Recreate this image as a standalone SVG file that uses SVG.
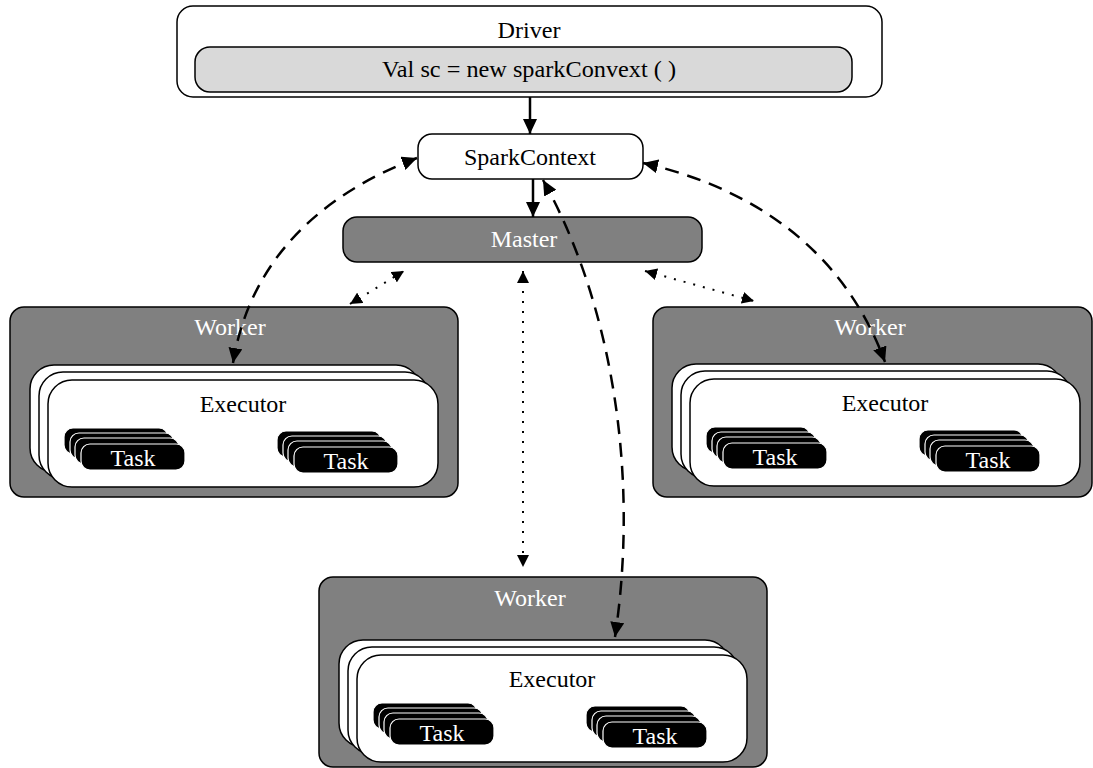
<svg xmlns="http://www.w3.org/2000/svg" width="1093" height="768" viewBox="0 0 1093 768">
<style>
text{font-family:"Liberation Serif","Times New Roman",serif;font-size:24px;text-anchor:middle}
.wt{fill:#fff}
.bt{fill:#000}
.box{stroke:#000;stroke-width:1.5}
.white{fill:#fff}
.gray{fill:#808080}
.light{fill:#d9d9d9}
.task{fill:#000;stroke:#fff;stroke-width:1.2}
.solid{fill:none;stroke:#000;stroke-width:2.5}
.dash{fill:none;stroke:#000;stroke-width:2.5;stroke-dasharray:14 9}
.dot{fill:none;stroke:#000;stroke-width:2;stroke-dasharray:2 8}
</style>
<defs>
<marker id="ah" markerUnits="userSpaceOnUse" markerWidth="16" markerHeight="14" refX="15" refY="7" orient="auto-start-reverse">
<path d="M0,0 L15,7 L0,14 z" fill="#000"/>
</marker>
<marker id="ahs" markerUnits="userSpaceOnUse" markerWidth="14" markerHeight="12" refX="12" refY="6" orient="auto-start-reverse">
<path d="M0,0 L12,6 L0,12 z" fill="#000"/>
</marker>
<g id="taskstack">
<rect class="task" x="-17" y="-16" width="104" height="26" rx="9"/>
<rect class="task" x="-11" y="-11" width="104" height="26" rx="9"/>
<rect class="task" x="-6" y="-6" width="104" height="26" rx="9"/>
<rect class="task" x="0" y="0" width="104" height="26" rx="9"/>
<text class="wt" x="52" y="22">Task</text>
</g>
<g id="exec">
<rect class="box white" x="-18" y="-15" width="390" height="107" rx="24"/>
<rect class="box white" x="-9" y="-8" width="390" height="107" rx="24"/>
<rect class="box white" x="0" y="0" width="390" height="107" rx="24"/>
<text class="bt" x="195" y="32">Executor</text>
<use href="#taskstack" x="33" y="64"/>
<use href="#taskstack" x="246" y="67"/>
</g>
</defs>
<rect width="1093" height="768" fill="#fff"/>

<g id="driver">
<rect class="box white" x="177" y="6" width="705" height="91" rx="16"/>
<text class="bt" x="529" y="38" font-size="21" textLength="63" lengthAdjust="spacingAndGlyphs">Driver</text>
<rect class="box light" x="195" y="47" width="657" height="45" rx="15"/>
<text class="bt" x="529" y="77" font-size="22" textLength="294" lengthAdjust="spacingAndGlyphs">Val sc = new sparkConvext ( )</text>
</g>

<g id="sparkcontext">
<rect class="box white" x="418" y="134" width="225" height="45" rx="14"/>
<text class="bt" x="530" y="165">SparkContext</text>
</g>

<g id="master">
<rect class="box gray" x="343" y="217" width="359" height="45" rx="14"/>
<text class="wt" x="524" y="247">Master</text>
</g>

<g id="worker-left">
<rect class="box gray" x="10" y="307" width="448" height="190" rx="14"/>
<text class="wt" x="230" y="335">Worker</text>
<use href="#exec" x="48" y="380"/>
</g>

<g id="worker-right">
<rect class="box gray" x="653" y="307" width="439" height="190" rx="14"/>
<text class="wt" x="870" y="335">Worker</text>
<use href="#exec" x="690" y="379"/>
</g>

<g id="worker-bottom">
<rect class="box gray" x="319" y="577" width="448" height="190" rx="14"/>
<text class="wt" x="530" y="606">Worker</text>
<use href="#exec" x="357" y="655"/>
</g>

<g id="connectors">
<line class="solid" x1="530" y1="97" x2="530" y2="134" marker-end="url(#ah)"/>
<line class="solid" x1="533" y1="179" x2="533" y2="217" marker-end="url(#ah)"/>
<path class="dash" d="M417,158 C320,195 250,260 233,363" marker-start="url(#ah)" marker-end="url(#ah)"/>
<path class="dash" d="M643,163 C740,185 840,240 885,362" marker-start="url(#ah)" marker-end="url(#ah)"/>
<path class="dash" d="M543,180 C610,300 640,470 615,637" marker-start="url(#ah)" marker-end="url(#ah)"/>
<line class="dot" x1="350" y1="304" x2="404" y2="271" marker-start="url(#ahs)" marker-end="url(#ahs)"/>
<line class="dot" x1="645" y1="271" x2="754" y2="301" marker-start="url(#ahs)" marker-end="url(#ahs)"/>
<line class="dot" x1="523" y1="271" x2="523" y2="567" marker-start="url(#ahs)" marker-end="url(#ahs)"/>
</g>
</svg>
